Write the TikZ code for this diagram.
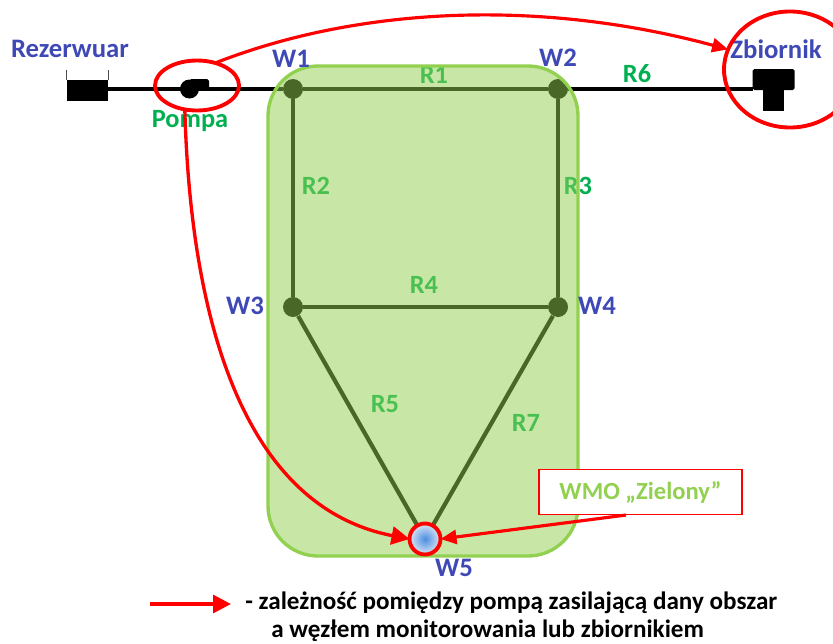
\documentclass[tikz,border=0pt]{standalone}
\usepackage{fontspec}
\setmainfont{Carlito}
\usepackage{xcolor}
\usetikzlibrary{positioning,arrows.meta,shapes.geometric}

\definecolor{wezelBlue}{HTML}{3F49B5}
\definecolor{rurGreen}{HTML}{00B050}
\definecolor{obszarGreen}{HTML}{92D050}
\definecolor{wezelMid}{HTML}{4A8DE0}
\definecolor{wezelEdge}{HTML}{DCE6F4}

\tikzset{
    wezel/.style={circle, fill=black, inner sep=0pt, minimum size=.4cm},
    rura/.style={black, line width=2.4pt},
    nazwa/.style={font=\bfseries\fontsize{15.2}{18}\selectfont, text=wezelBlue, inner sep=0pt},
    rurnazwa/.style={font=\bfseries\fontsize{15}{18}\selectfont, text=rurGreen, inner sep=0pt},
    krag/.style={draw=red, line width=2.2pt, inner sep=0pt, outer sep=0pt},
    zaleznosc/.style={red, line width=1.8pt, -{Triangle[length=.32cm,width=.28cm]}},
    zaleznoscW/.style={red, line width=1.9pt, -{Triangle[length=.36cm,width=.36cm]}},
    legenda/.style={font=\bfseries\fontsize{14.3}{17}\selectfont, text=black, inner sep=0pt, anchor=west}
}

\begin{document}
\begin{tikzpicture}
            \useasboundingbox (0,0) rectangle (16.66,12.86);

            % rezerwuar, pompa, zbiornik
            \node[fill=black, inner sep=0pt, minimum width=.82cm, minimum height=.42cm] (rez) at (1.74,11.05) {};
            \draw[black!70, thin] (rez.north west) -- ++(0,.2);
            \draw[black!70, thin] (rez.north east) -- ++(0,.2);
            \node[fill=black, circle, inner sep=0pt, minimum size=.38cm] (pompa) at (3.79,11.08) {};
            \fill[black, rounded corners=1pt] (3.79,11.08) rectangle (4.18,11.28);
            \node[fill=black, rounded corners=1pt, inner sep=0pt, outer sep=0pt, minimum width=.84cm, minimum height=.42cm] (tankT) at (15.47,11.27) {};
            \node[fill=black, inner sep=0pt, outer sep=0pt, minimum width=.42cm, minimum height=.44cm, below=-.02cm of tankT] (tankS) {};

            \node[wezel] (W1) at (5.86,11.08) {};
            \node[wezel] (W2) at (11.16,11.08) {};
            \node[wezel] (W3) at (5.86,6.72) {};
            \node[wezel] (W4) at (11.16,6.72) {};
            \coordinate (W5c) at (8.5,2.08);

            \draw[rura] (rez.east |- W1) -- (W1);
            \draw[rura] (W1) -- (W2);
            \draw[rura] (W2) -- (W2 -| tankT.west);
            \draw[rura] (W1) -- (W3);
            \draw[rura] (W2) -- (W4);
            \draw[rura] (W3) -- (W4);
            \draw[rura] (W3) -- (W5c);
            \draw[rura] (W4) -- (W5c);

            \node[rurnazwa] (R1) at (8.68,11.36) {R1};
            \node[rurnazwa] (R2) at (6.32,9.14)  {R2};
            \node[rurnazwa] (R3) at (11.56,9.14) {R3};
            \node[rurnazwa] (R4) at (8.48,7.16)  {R4};
            \node[rurnazwa] (R5) at (7.70,4.78)  {R5};
            \node[rurnazwa] (R6) at (12.74,11.38) {R6};
            \node[rurnazwa] (R7) at (10.52,4.40) {R7};

            % obszar przykrywa rury
            \draw[draw=obszarGreen, fill=obszarGreen, fill opacity=.5, line width=1.9pt, rounded corners=1cm]
                (5.36,1.74) rectangle (11.56,11.54);

            \node[nazwa] (rezL)  at (1.40,11.88) {Rezerwuar};
            \node[nazwa] (zbL)   at (15.52,11.88) {Zbiornik};
            \node[nazwa] (W1L)   at (5.82,11.68) {W1};
            \node[nazwa] (W2L)   at (11.16,11.70) {W2};
            \node[nazwa] (W3L)   at (4.90,6.74)  {W3};
            \node[nazwa] (W4L)   at (11.94,6.74) {W4};
            \node[nazwa] (W5L)   at (9.08,1.50)  {W5};
            \node[rurnazwa] (pompaL) at (3.80,10.44) {Pompa};

            \node[krag, ellipse, minimum width=1.68cm, minimum height=1cm] (pompaO) at (3.94,11.15) {};
            \node[krag, ellipse, minimum width=2.64cm, minimum height=2.32cm] (zbO) at (15.80,11.47) {};
            \node[krag, circle, minimum size=.62cm, inner color=wezelMid, outer color=wezelEdge] (W5) at (W5c) {};

            \node[draw=red, line width=.6pt, fill=white, minimum width=4.06cm, minimum height=.9cm, inner sep=0pt,
                  font=\bfseries\fontsize{14}{17}\selectfont, text=obszarGreen] (wmo) at (12.81,3.02) {WMO „Zielony”};

            \draw[zaleznosc] (pompaO.51) .. controls (7.0,12.66) and (10.6,12.94) .. (zbO.162);
            \draw[zaleznoscW] (pompaO.-117) .. controls (3.80,6.86) and (4.70,2.76) .. (W5.west);
            \draw[zaleznosc] (wmo.south -| 12.52,0) -- (W5.east);

            \coordinate (legA) at (3.00,0.78);
            \coordinate (legB) at (4.62,0.78);
            \draw[zaleznoscW] (legA) -- (legB);
            \node[legenda] (leg1) at (4.90,0.80) {- zależność pomiędzy pompą zasilającą dany obszar};
            \node[legenda] (leg2) at (5.42,0.24) {a węzłem monitorowania lub zbiornikiem};
\end{tikzpicture}
\end{document}
